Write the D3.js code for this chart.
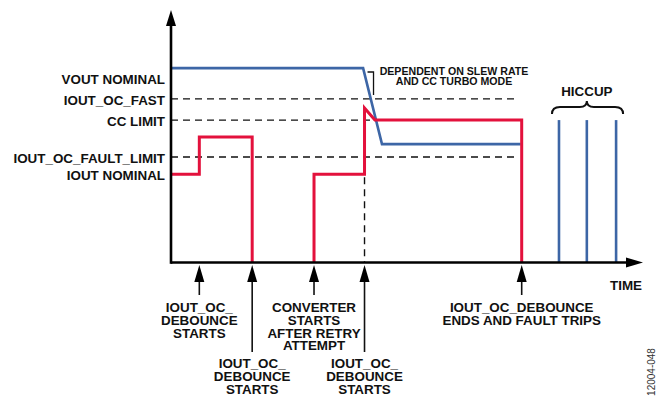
<!DOCTYPE html>
<html>
<head>
<meta charset="utf-8">
<script src="https://cdn.jsdelivr.net/npm/d3@7"></script>
<style>
  body { margin: 0; background: #fff; }
  svg { display: block; font-family: "Liberation Sans", Arial, sans-serif; }
  text { font-weight: bold; fill: #111; }
</style>
</head>
<body>
<svg id="chart"></svg>
<script>
// levels on the vertical axis (arbitrary units)
const levelNames = ["VOUT NOMINAL", "IOUT_OC_FAST", "CC LIMIT", "IOUT_OC_FAULT_LIMIT", "IOUT NOMINAL"];
const levelValues = [77, 64.8, 56.4, 41.8, 35];
const dashedLevels = ["IOUT_OC_FAST", "CC LIMIT", "IOUT_OC_FAULT_LIMIT"];

// current trace (red), two segments
const currentA = [[0, 35], [6, 35], [6, 49.7], [17.2, 49.7], [17.2, 0]];
const currentB = [[30.3, 0], [30.3, 35], [41, 35], [41, 61.2], [43.2, 56.4], [74.3, 56.4], [74.3, 0]];
// output voltage trace (blue)
const voltage = [[0, 77], [40.7, 77], [44.7, 46.9], [74.1, 46.9]];
// hiccup restarts
const hiccupTimes = [82.2, 88.1, 94.3];
const hiccupLevel = 56.4;

// events marked under the time axis
const eventTimes = [6, 17.2, 30.3, 41, 74.3];
const eventLabels = [
  ["IOUT_OC_", "DEBOUNCE", "STARTS"],
  ["IOUT_OC_", "DEBOUNCE", "STARTS"],
  ["CONVERTER", "STARTS", "AFTER RETRY", "ATTEMPT"],
  ["IOUT_OC_", "DEBOUNCE", "STARTS"],
  ["IOUT_OC_DEBOUNCE", "ENDS AND FAULT TRIPS"]
];
const slewTime = 41;
const noteLines = ["DEPENDENT ON SLEW RATE", "AND CC TURBO MODE"];

const W = 657, H = 397;
const svg = d3.select("#chart").attr("width", W).attr("height", H);

const x = d3.scaleLinear().domain([0, 100]).range([171, 643]);
const y = d3.scaleLinear().domain([0, 100]).range([262.5, 10]);
const lvl = name => levelValues[levelNames.indexOf(name)];

const red = "#e3113c", blue = "#3d66a6";
const fs = "13.4px";

// dashed threshold lines
svg.selectAll(".thr")
  .data(dashedLevels)
  .enter()
  .append("line")
  .attr("x1", x(0)).attr("x2", x(73))
  .attr("y1", d => y(lvl(d))).attr("y2", d => y(lvl(d)))
  .attr("stroke", "#111").attr("stroke-width", 1.4)
  .attr("stroke-dasharray", "7,5");

// dashed vertical at the second debounce
svg.append("line")
  .attr("x1", x(slewTime)).attr("x2", x(slewTime))
  .attr("y1", y(35) + 3).attr("y2", y(0))
  .attr("stroke", "#111").attr("stroke-width", 1.4)
  .attr("stroke-dasharray", "7,5");

const line = d3.line().x(d => x(d[0])).y(d => y(d[1]));

svg.append("path").datum(voltage)
  .attr("d", line).attr("fill", "none")
  .attr("stroke", blue).attr("stroke-width", 2.6);

[currentA, currentB].forEach(seg => {
  svg.append("path").datum(seg)
    .attr("d", line).attr("fill", "none")
    .attr("stroke", red).attr("stroke-width", 3)
    .attr("stroke-linejoin", "miter");
});

svg.selectAll(".hic")
  .data(hiccupTimes)
  .enter()
  .append("line")
  .attr("x1", d => x(d)).attr("x2", d => x(d))
  .attr("y1", y(hiccupLevel)).attr("y2", y(0))
  .attr("stroke", blue).attr("stroke-width", 2.6);

// axes
svg.append("line")
  .attr("x1", x(0)).attr("x2", x(100) - 10)
  .attr("y1", y(0)).attr("y2", y(0))
  .attr("stroke", "#000").attr("stroke-width", 2.6);
svg.append("line")
  .attr("x1", x(0)).attr("x2", x(0))
  .attr("y1", y(0) + 1.3).attr("y2", y(100) + 10)
  .attr("stroke", "#000").attr("stroke-width", 2.6);
svg.append("path")
  .attr("d", `M${x(100)},${y(0)} L${x(100) - 17},${y(0) - 5} L${x(100) - 17},${y(0) + 5} Z`)
  .attr("fill", "#000");
svg.append("path")
  .attr("d", `M${x(0)},${y(100)} L${x(0) - 5},${y(100) + 16} L${x(0) + 5},${y(100) + 16} Z`)
  .attr("fill", "#000");

svg.append("text")
  .attr("x", 642).attr("y", 290)
  .attr("text-anchor", "end")
  .style("font-size", fs)
  .text("TIME");

// level labels
svg.selectAll(".lvl")
  .data(levelNames)
  .enter()
  .append("text")
  .attr("x", 165)
  .attr("y", (d, i) => y(levelValues[i]) + (i === 0 ? 11 : 1))
  .attr("dy", "0.36em")
  .attr("text-anchor", "end")
  .style("font-size", fs)
  .text(d => d);

// event arrows + labels
const longArrows = [1, 3];
eventTimes.forEach((t, i) => {
  const cx = x(t);
  const isLong = longArrows.includes(i);
  const tip = y(0) + 2.5;
  const end = isLong ? 352 : 295;
  svg.append("line")
    .attr("x1", cx).attr("x2", cx)
    .attr("y1", tip + 10).attr("y2", end)
    .attr("stroke", "#111").attr("stroke-width", 1.6);
  svg.append("path")
    .attr("d", `M${cx},${tip} L${cx - 5},${tip + 17} L${cx + 5},${tip + 17} Z`)
    .attr("fill", "#000");
  const base = isLong ? 368 : 312;
  const step = isLong ? 13.2 : 12.8;
  const t2 = svg.append("text")
    .attr("text-anchor", "middle")
    .style("font-size", fs);
  eventLabels[i].forEach((s, j) => {
    t2.append("tspan").attr("x", cx).attr("y", base + j * step).text(s);
  });
});

// slew-rate note with small bracket
svg.append("path")
  .attr("d", `M${x(slewTime) + 3},72 L${x(slewTime) + 9},72 L${x(slewTime) + 9},95`)
  .attr("fill", "none").attr("stroke", "#111").attr("stroke-width", 1.3);
const note = svg.append("text")
  .attr("text-anchor", "middle")
  .style("font-size", "10.6px");
noteLines.forEach((s, j) => {
  note.append("tspan").attr("x", 454).attr("y", 74.5 + j * 10.5).text(s);
});

// hiccup brace
const bx0 = x(hiccupTimes[0]) - 7, bx1 = x(hiccupTimes[2]) + 7, bxm = x(hiccupTimes[1]);
svg.append("path")
  .attr("d", `M${bx0},114 Q${bx0},107 ${bx0 + 8},107 L${bxm - 7},107 Q${bxm},107 ${bxm},101 Q${bxm},107 ${bxm + 7},107 L${bx1 - 8},107 Q${bx1},107 ${bx1},114`)
  .attr("fill", "none").attr("stroke", "#111").attr("stroke-width", 2);
svg.append("text")
  .attr("x", bxm).attr("y", 96)
  .attr("text-anchor", "middle")
  .style("font-size", fs)
  .text("HICCUP");

// figure id
svg.append("text")
  .attr("transform", "translate(655,372) rotate(-90)")
  .attr("text-anchor", "middle")
  .style("font-size", "10px")
  .style("font-weight", "normal")
  .style("fill", "#333")
  .text("12004-048");
</script>
</body>
</html>
